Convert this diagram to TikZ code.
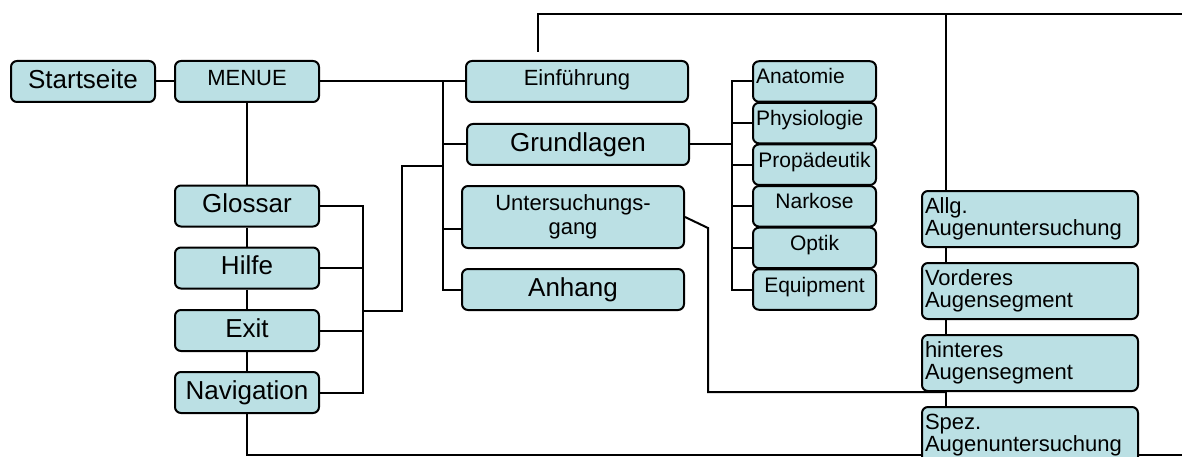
\documentclass[tikz,border=0pt]{standalone}
\usepackage{fontspec}
\setmainfont{Liberation Sans}
\definecolor{boxblue}{RGB}{187,224,228}

\begin{document}
\begin{tikzpicture}[x=1pt, y=1pt, line width=2pt, node distance=62pt, box/.style={rectangle, draw, rounded corners=6pt, fill=boxblue, inner sep=0pt}, block/.style={box, minimum width=144pt, minimum height=41pt, font=\fontsize{26}{30}\selectfont, text height=19pt, text depth=5.4pt}, wideblock/.style={block, minimum width=222pt}, smalltext/.style={font=\fontsize{22}{22.5}\selectfont, text height=16.5pt, text depth=8.7pt}, subblock/.style={box, minimum width=123pt, minimum height=40.5pt, font=\fontsize{21}{22}\selectfont, text height=15.5pt, text depth=10.5pt}, exblock/.style={box, minimum width=216pt, minimum height=56pt, text width=210pt, align=left, font=\fontsize{22}{22.5}\selectfont}]
  {
  \useasboundingbox (0,0) rectangle (1182,-457);
  \node[block] (start) at (83,-81.5) {Startseite};
  \node[block, right of=start, node distance=164pt, smalltext] (menue) {MENUE};
  \node[block, below of=menue, node distance=124.5pt] (glossar) {Glossar};
  \node[block, below of=glossar] (hilfe) {Hilfe};
  \node[block, below of=hilfe, node distance=62.5pt] (exit) {Exit};
  \node[block, below of=exit] (navi) {Navigation};

  \node[wideblock, right of=menue, node distance=330pt, smalltext] (einf) {Einführung};
  \node[wideblock, below of=einf, node distance=63pt, xshift=1pt] (grund) {Grundlagen};
  \node[box, minimum width=222pt, minimum height=62pt, align=center, font=\fontsize{22}{23.5}\selectfont, below of=grund, node distance=72.5pt, xshift=-5pt] (unters) {Untersuchungs-\\gang};
  \node[wideblock, below of=unters, node distance=72.5pt] (anhang) {Anhang};

  \node[subblock, right of=einf, node distance=237.5pt, text width=117pt, align=left] (anatomie) {Anatomie};
  \node[subblock, below of=anatomie, node distance=41.6pt, text width=117pt, align=left] (physio) {Physiologie};
  \node[subblock, below of=physio, node distance=41.6pt] (propae) {Propädeutik};
  \node[subblock, below of=propae, node distance=41.6pt] (narkose) {Narkose};
  \node[subblock, below of=narkose, node distance=41.6pt] (optik) {Optik};
  \node[subblock, below of=optik, node distance=41.6pt] (equip) {Equipment};

  \node[exblock, right of=unters, node distance=457pt, yshift=-2pt] (allg) {Allg.\\Augenuntersuchung};
  \node[exblock, below of=allg, node distance=72pt] (vord) {Vorderes\\Augensegment};
  \node[exblock, below of=vord, node distance=72pt] (hint) {hinteres\\Augensegment};
  \node[exblock, below of=hint, node distance=72pt] (spez) {Spez.\\Augenuntersuchung};

  \node[coordinate, right of=glossar, node distance=116pt] (lbus) {};
  \node[coordinate, left of=einf, node distance=134pt] (bus1) {};
  \node[coordinate, left of=bus1, node distance=41pt] (ljx) {};
  \node[coordinate, left of=anatomie, node distance=82.5pt] (sbus) {};
  \node[coordinate, left of=allg, node distance=84pt] (rbus) {};
  \node[coordinate, right of=unters, node distance=135pt, yshift=-11pt] (ubend) {};
  \node[coordinate, above of=einf, node distance=29.5pt, xshift=-39pt] (einftop) {};
  \node[coordinate, above of=einftop, node distance=38pt] (topl) {};
  \node[coordinate] (bot) at (1186,-455) {};

  \draw (start) -- (menue);
  \draw (menue) -- (einf);
  \draw (menue) -- (glossar);
  \draw (glossar) -- (hilfe);
  \draw (hilfe) -- (exit);
  \draw (exit) -- (navi);
  \draw (glossar) -- (lbus) |- (navi);
  \draw (hilfe) -- (hilfe -| lbus);
  \draw (exit) -- (exit -| lbus);
  \draw (lbus |- anhang.south) -- (ljx |- anhang.south) |- (grund.south -| bus1);

  \draw (bus1) |- (anhang);
  \draw (grund) -- (grund -| bus1);
  \draw (unters.186) -- (unters.186 -| bus1);
  \draw (grund) -- (grund -| sbus);
  \draw (anatomie) -- (sbus) |- (equip);
  \draw (physio) -- (physio -| sbus);
  \draw (propae) -- (propae -| sbus);
  \draw (narkose) -- (narkose -| sbus);
  \draw (optik) -- (optik -| sbus);

  \draw (einftop) -- (topl) -- (topl -| bot);
  \draw (topl -| rbus) -- (allg.north -| rbus);
  \draw (allg.south -| rbus) -- (vord.north -| rbus);
  \draw (vord.south -| rbus) -- (hint.north -| rbus);
  \draw (hint.south -| rbus) -- (spez.north -| rbus);
  \draw (unters.east) -- (ubend) |- (hint.south -| rbus);
  \draw (navi) |- (spez.west |- bot);
  \draw (spez.east |- bot) -- (bot);
  }
\end{tikzpicture}
\end{document}
